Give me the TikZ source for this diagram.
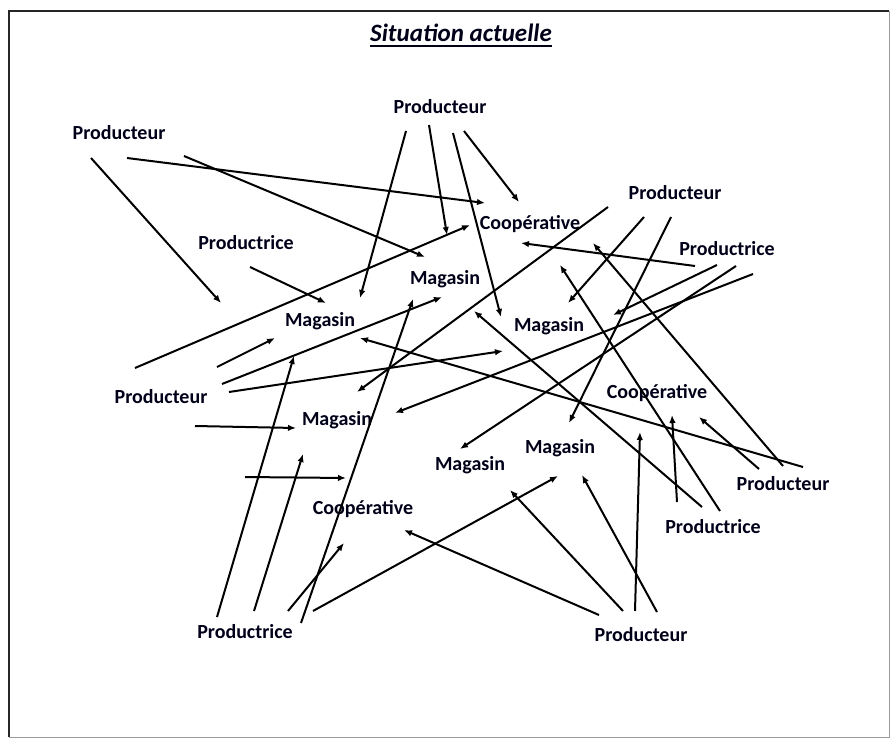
\documentclass[tikz,border=0pt]{standalone}
\usepackage{fontspec}
\setmainfont{Carlito}
\usetikzlibrary{arrows.meta}
\newcommand\flowarrow[3]{\coordinate (#1s) at #2; \coordinate (#1e) at #3; \draw[flowline] (#1s) -- (#1e);}
\begin{document}
\begin{tikzpicture}[x=1pt,y=-1pt,
  lbl/.style={anchor=base,inner sep=0pt,font=\fontsize{20}{23}\selectfont\bfseries,text=black!90!blue},
  flowline/.style={line width=2pt,-{Latex[length=8pt,width=6.5pt]}},
  frame/.style={line width=2.6pt,black!85}]
\useasboundingbox (0,0) rectangle (892,739);
% frame
\draw[frame] (9,737) -- (9,11) -- (889,11);
\draw[line width=1pt,black!40] (889,11) -- (889,737) -- (9,737);
% title
\node[lbl,font=\fontsize{25}{29}\selectfont\bfseries\itshape] (T) at (461,41) {Situation actuelle};
\draw[line width=1.8pt,black!90!blue] ([yshift=-5pt]T.base west) -- ([yshift=-5pt]T.base east);
% labels
\node[lbl] (P1) at (440,113) {Producteur};
\node[lbl] (P2) at (119,139) {Producteur};
\node[lbl] (R1) at (246,249) {Productrice};
\node[lbl] (C1) at (530,229) {Coopérative};
\node[lbl] (P3) at (675,199) {Producteur};
\node[lbl] (R2) at (727,255) {Productrice};
\node[lbl] (M1) at (445,284) {Magasin};
\node[lbl] (M2) at (320,326) {Magasin};
\node[lbl] (M3) at (549,331) {Magasin};
\node[lbl] (P4) at (161,403) {Producteur};
\node[lbl] (M4) at (337,425) {Magasin};
\node[lbl] (C2) at (657,398) {Coopérative};
\node[lbl] (M5) at (560,453) {Magasin};
\node[lbl] (M6) at (470,470) {Magasin};
\node[lbl] (C3) at (363,514) {Coopérative};
\node[lbl] (P5) at (783,490) {Producteur};
\node[lbl] (R3) at (713,533) {Productrice};
\node[lbl] (R4) at (245,638) {Productrice};
\node[lbl] (P6) at (641,641) {Producteur};
% arrows
\flowarrow{a1}{(91,158)}{(221,303)}
\flowarrow{a2}{(127,158)}{(485,203)}
\flowarrow{a3}{(184,156)}{(425,257)}
\flowarrow{b1}{(406,131)}{(360,298)}
\flowarrow{b2}{(429,125)}{(447,235)}
\flowarrow{b3}{(453,133)}{(501,317)}
\flowarrow{b4}{(464,131)}{(519,202)}
\flowarrow{c1}{(250,267)}{(326,303)}
\flowarrow{d1}{(695,266)}{(521,243)}
\flowarrow{d2}{(717,265)}{(613,315)}
\flowarrow{d3}{(736,266)}{(460,449)}
\flowarrow{d4}{(753,274)}{(395,413)}
\flowarrow{e1}{(644,217)}{(568,303)}
\flowarrow{e2}{(671,217)}{(569,423)}
\flowarrow{f1}{(608,207)}{(357,392)}
\flowarrow{g1}{(135,368)}{(470,225)}
\flowarrow{g2}{(217,367)}{(275,338)}
\flowarrow{g3}{(222,384)}{(442,297)}
\flowarrow{g4}{(229,392)}{(503,351)}
\flowarrow{g5}{(195,426)}{(296,428)}
\flowarrow{g6}{(245,477)}{(346,478)}
\flowarrow{h1}{(217,617)}{(294,356)}
\flowarrow{h2}{(254,611)}{(303,454)}
\flowarrow{h3}{(288,611)}{(344,543)}
\flowarrow{h4}{(301,623)}{(413,299)}
\flowarrow{h5}{(313,611)}{(558,476)}
\flowarrow{i1}{(599,615)}{(404,530)}
\flowarrow{i2}{(623,611)}{(510,490)}
\flowarrow{i3}{(635,611)}{(640,432)}
\flowarrow{i4}{(657,612)}{(582,475)}
\flowarrow{j1}{(677,502)}{(672,415)}
\flowarrow{j2}{(702,507)}{(474,311)}
\flowarrow{j3}{(720,511)}{(560,265)}
\flowarrow{k1}{(759,469)}{(699,417)}
\flowarrow{k2}{(783,466)}{(593,243)}
\flowarrow{k3}{(803,467)}{(360,338)}
\end{tikzpicture}
\end{document}
